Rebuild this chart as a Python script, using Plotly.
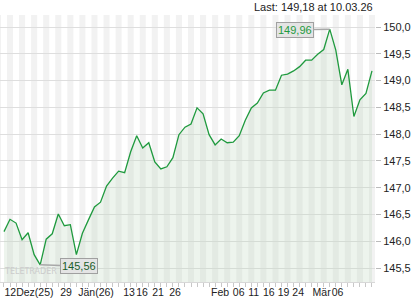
import plotly.graph_objects as go

# ---- data ----
prices = [146.18, 146.41, 146.34, 146.03, 146.16, 145.75, 145.56, 146.04, 146.14, 146.51,
          146.29, 146.31, 145.75, 146.15, 146.40, 146.64, 146.73, 147.03, 147.18, 147.31,
          147.28, 147.67, 147.97, 147.74, 147.84, 147.48, 147.35, 147.39, 147.56, 147.99,
          148.13, 148.19, 148.49, 148.38, 147.99, 147.80, 147.91, 147.84, 147.85, 147.97,
          148.26, 148.49, 148.58, 148.77, 148.82, 148.82, 149.10, 149.12, 149.18, 149.26,
          149.38, 149.38, 149.49, 149.58, 149.96, 149.57, 148.92, 149.21, 148.33, 148.64,
          148.76, 149.18]
x_idx = list(range(len(prices)))

x_tick_pos = [4.15, 10.28, 15.26, 20.73, 22.89, 25.54, 28.36, 35.82, 38.9, 41.4, 43.9,
              46.35, 48.76, 52.65, 55.3]
x_tick_text = ["12Dez(25)", "29", "Jän(26)", "13", "16", "21", "26", "Feb", "06", "11",
               "16", "19", "24", "Mär", "06"]
y_ticks = [145.5, 146.0, 146.5, 147.0, 147.5, 148.0, 148.5, 149.0, 149.5, 150.0]

last_text = "Last: 149,18 at 10.03.26"
max_i = prices.index(max(prices))
min_i = prices.index(min(prices))

GREEN = "#1f9a3e"
FONT = "Liberation Sans, Arial, sans-serif"

fig = go.Figure()
fig.add_trace(go.Scatter(
    x=x_idx, y=prices, mode="lines",
    line=dict(color=GREEN, width=1.3),
    fill="tozeroy", fillcolor="rgba(190,215,190,0.28)",
    hoverinfo="skip", showlegend=False,
))

# alternating vertical day stripes
shapes = []
for i in range(-1, len(prices) + 1, 2):
    shapes.append(dict(type="rect", xref="x", yref="paper", x0=i - 0.5, x1=i + 0.5,
                       y0=0, y1=1, fillcolor="#f2f2f2", line=dict(width=0), layer="below"))

W, H = 420, 300
L, R, T, B = 0, 45, 15, 18


def px_to_paper(px, py):
    return (px - L) / (W - L - R), 1 - (py - T) / (H - T - B)


lx, ly = px_to_paper(375, 7)
wx, wy = px_to_paper(2, 271)

annotations = [
    dict(x=max_i, y=prices[max_i], xref="x", yref="y",
         text=f"{prices[max_i]:.2f}".replace(".", ","),
         showarrow=True, arrowhead=0, arrowwidth=1.5, arrowcolor="#a8a8a8",
         ax=-35, ay=1, bgcolor="#e4e4e4", bordercolor="#a0a0a0", borderwidth=1, borderpad=1,
         font=dict(family=FONT, size=11, color=GREEN)),
    dict(x=min_i, y=prices[min_i], xref="x", yref="y",
         text=f"{prices[min_i]:.2f}".replace(".", ","),
         showarrow=True, arrowhead=0, arrowwidth=1.5, arrowcolor="#a8a8a8",
         ax=39, ay=1, bgcolor="#e4e4e4", bordercolor="#a0a0a0", borderwidth=1, borderpad=1,
         font=dict(family=FONT, size=11, color="#1a5e2a")),
    dict(x=lx, y=ly, xref="paper", yref="paper", text=last_text, showarrow=False,
         xanchor="right", yanchor="middle",
         font=dict(family=FONT, size=11, color="#222222")),
    dict(x=wx, y=wy, xref="paper", yref="paper", text="TELETRADER", showarrow=False,
         xanchor="left", yanchor="middle",
         font=dict(family="DejaVu Sans, sans-serif", size=8, color="#cccccc")),
]

fig.update_layout(
    width=W, height=H,
    margin=dict(l=L, r=R, t=T, b=B, pad=0, autoexpand=False),
    paper_bgcolor="#ffffff", plot_bgcolor="#ffffff",
    separators=",.",
    shapes=shapes, annotations=annotations,
    font=dict(family=FONT, size=11, color="#222222"),
    xaxis=dict(range=[-0.66, 61.5], tickmode="array", tickvals=x_tick_pos, ticktext=x_tick_text,
               tickangle=0, automargin=False,
               ticks="", showgrid=False, zeroline=False, showline=True, linecolor="#d8d8d8",
               tickfont=dict(family=FONT, size=10.5, color="#222222"),
               minor=dict(ticks="outside", ticklen=4, tickcolor="#c8c8c8", dtick=1, tick0=0,
                          showgrid=False)),
    yaxis=dict(side="right", range=[145.24, 150.224], tickmode="array", tickvals=y_ticks,
               tickformat=".1f", ticks="outside", ticklen=5, tickcolor="#bbbbbb",
               automargin=False,
               showgrid=True, gridcolor="#dedede", gridwidth=1, zeroline=False,
               showline=False, tickfont=dict(family=FONT, size=11, color="#222222")),
)

fig.write_html("out.html")
